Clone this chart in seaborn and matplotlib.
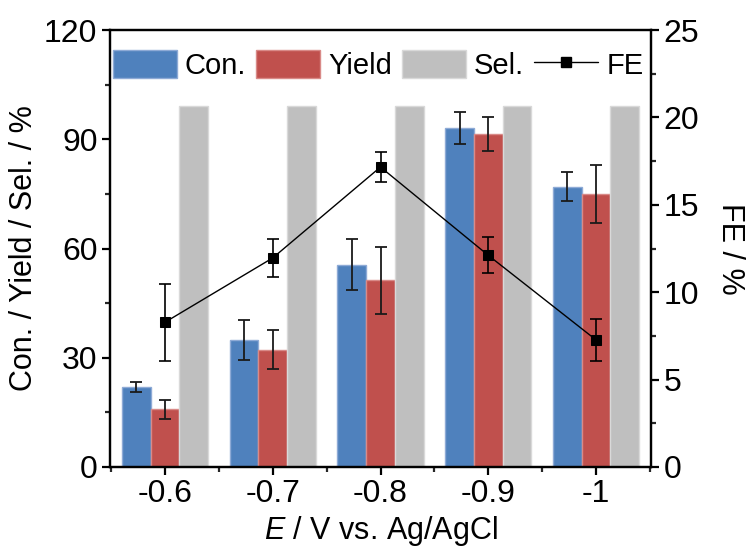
import numpy as np
import pandas as pd
import seaborn as sns
import matplotlib.pyplot as plt
from matplotlib.patches import Patch
from matplotlib.lines import Line2D
from matplotlib.ticker import MultipleLocator

# ------ data ------
potentials = ["-0.6", "-0.7", "-0.8", "-0.9", "-1"]
con = [22.0, 34.9, 55.5, 93.1, 77.0]
con_err = [1.3, 5.5, 7.0, 4.3, 4.0]
yld = [15.8, 32.2, 51.3, 91.5, 74.9]
yld_err = [2.7, 5.3, 9.2, 4.6, 7.9]
sel = [99.1, 99.1, 99.1, 99.1, 99.1]
fe = [8.28, 11.96, 17.16, 12.11, 7.27]
fe_err = [2.2, 1.1, 0.87, 1.03, 1.18]

series = ["Con.", "Yield", "Sel."]
colors = ["#4f81bd", "#c0504d", "#bfbfbf"]
edges = ["#8eaad6", "#d98a88", "#d9d9d9"]

df = pd.DataFrame({
    "E": potentials * 3,
    "value": con + yld + sel,
    "series": [s for s in series for _ in potentials],
})

# ------ style ------
sns.set_theme(style="ticks")
plt.rcParams["font.family"] = ["Liberation Sans", "DejaVu Sans"]
plt.rcParams["mathtext.fontset"] = "custom"
plt.rcParams["mathtext.it"] = "Liberation Sans:italic"
plt.rcParams["mathtext.rm"] = "Liberation Sans"
plt.rcParams["text.color"] = "black"
plt.rcParams["axes.labelcolor"] = "black"

fig = plt.figure(figsize=(7.55, 5.54), dpi=100)
ax = fig.add_axes([110 / 755, 87 / 554, 541 / 755, 437 / 554])

sns.barplot(data=df, x="E", y="value", hue="series", palette=colors,
            errorbar=None, width=0.8, saturation=1, ax=ax, legend=False)

# edge colours per series + error bars at the bar centres
n = len(potentials)
for i, p in enumerate(ax.patches[:3 * n]):
    p.set_edgecolor(edges[i // n])
    p.set_linewidth(1.0)
for k, err in enumerate([con_err, yld_err]):
    bars = ax.patches[k * n:(k + 1) * n]
    xs = [b.get_x() + b.get_width() / 2 for b in bars]
    hs = [b.get_height() for b in bars]
    ax.errorbar(xs, hs, yerr=err, fmt="none", ecolor="#1a1a1a",
                elinewidth=1.3, capsize=4, capthick=1.3, zorder=5)

ax.set_xlim(-0.51, 4.51)
ax.set_ylim(0, 120)
ax.yaxis.set_major_locator(MultipleLocator(30))
ax.yaxis.set_minor_locator(MultipleLocator(15))
ax.xaxis.set_minor_locator(MultipleLocator(1, offset=0.5))
ax.set_ylabel("Con. / Yield / Sel. / %", fontsize=22, labelpad=4)
ax.set_xlabel("$E$ / V vs. Ag/AgCl", fontsize=22, labelpad=3)

# ------ FE on the right axis ------
ax2 = ax.twinx()
sns.pointplot(x=potentials, y=fe, color="black", markers="s", markersize=6.5,
              linewidth=1.0, errorbar=None, ax=ax2)
ax2.errorbar(range(n), fe, yerr=fe_err, fmt="none", ecolor="black",
             elinewidth=1.2, capsize=4, capthick=1.2, zorder=5)
ax2.set_xlim(-0.51, 4.51)
ax2.set_ylim(0, 25)
ax2.yaxis.set_major_locator(MultipleLocator(5))
ax2.yaxis.set_minor_locator(MultipleLocator(2.5))
ax2.set_ylabel("FE / %", fontsize=22, rotation=270, labelpad=33)

for a in (ax, ax2):
    for s in a.spines.values():
        s.set_linewidth(1.6)
        s.set_color("black")
    a.tick_params(which="major", direction="out", length=6, width=1.6,
                  labelsize=23, colors="black", pad=3)
    a.tick_params(which="minor", direction="out", length=3.5, width=1.6)
ax.tick_params(axis="y", which="both", right=False)
ax.tick_params(axis="x", which="both", top=False)

# ------ legend ------
handles = [Patch(facecolor=c, edgecolor=e, label=s)
           for c, e, s in zip(colors, edges, series)]
handles.append(Line2D([0], [0], color="black", lw=1.0, marker="s",
                      markersize=6.5, label="FE"))
ax2.legend(handles=handles, loc="upper left", bbox_to_anchor=(0.0, 0.962),
           ncol=4, frameon=False, fontsize=21, handlelength=2.2,
           handleheight=1.15, handletextpad=0.27, columnspacing=0.34,
           borderaxespad=0, borderpad=0.1)

fig.savefig("out.png", dpi=100)
